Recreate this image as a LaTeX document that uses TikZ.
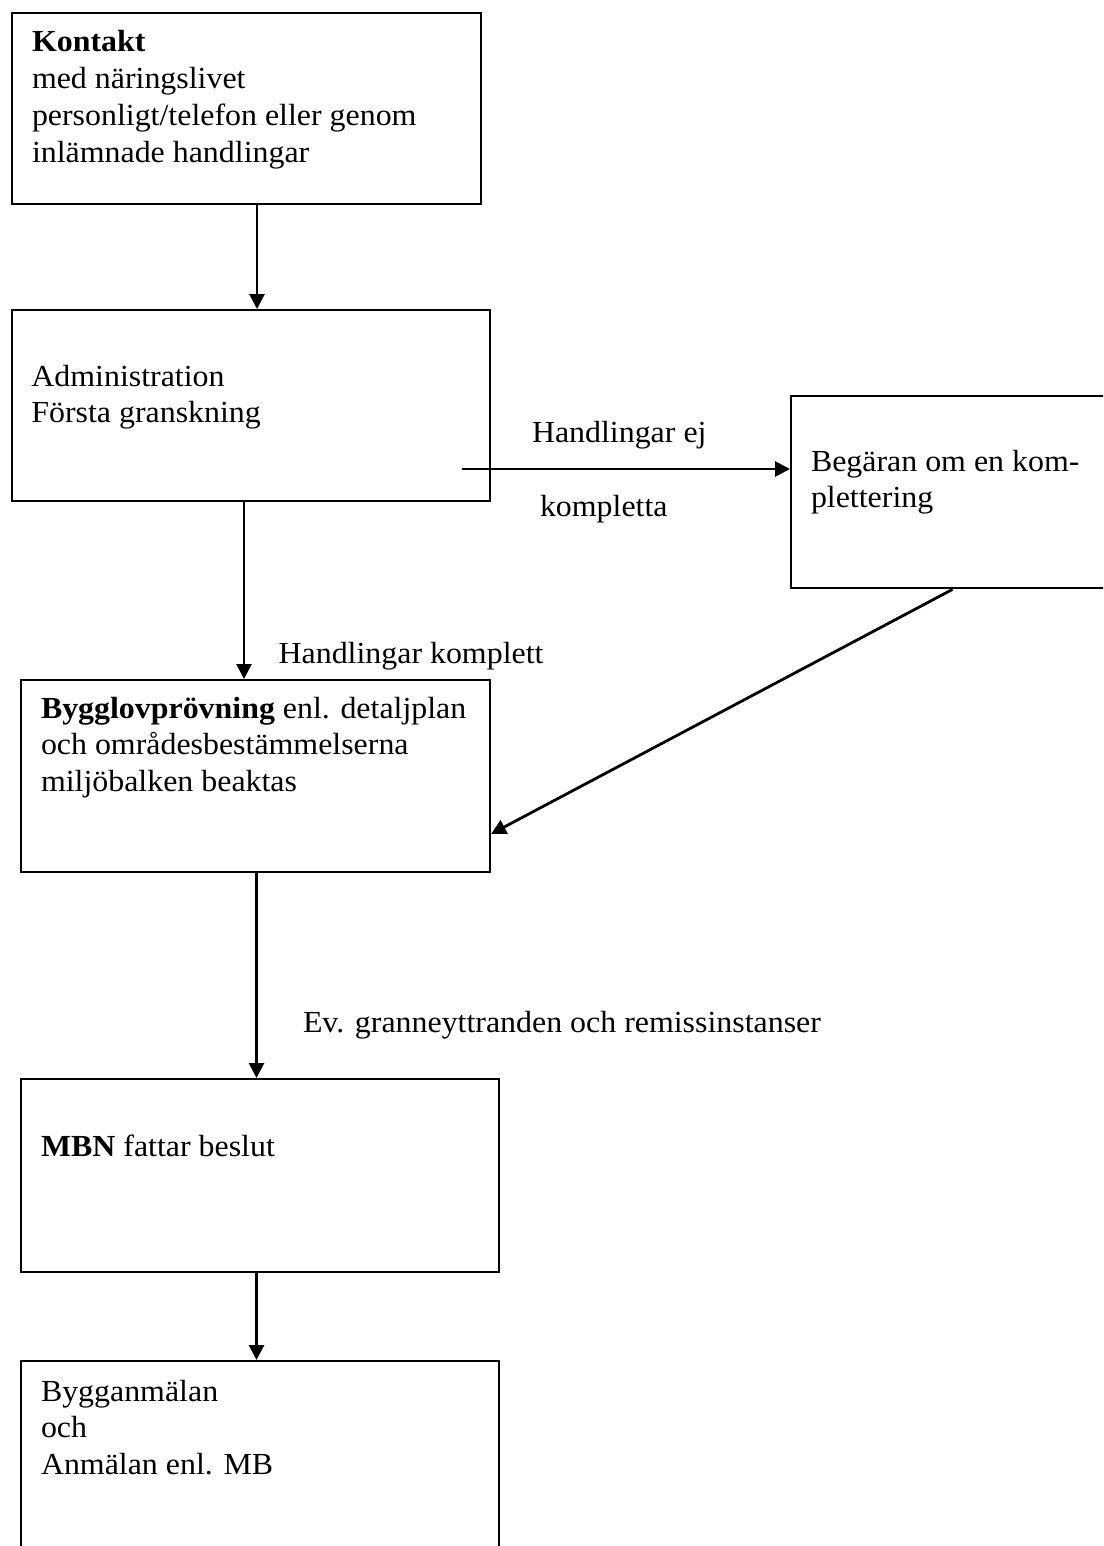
\documentclass[tikz,border=0pt]{standalone}
\usepackage{fontspec}
\usepackage{graphicx}
\setmainfont{Liberation Serif}
\usetikzlibrary{arrows.meta}
\newcommand\sqtext[1]{\scalebox{1}[0.96]{\begin{tabular}[t]{@{}l@{}}#1\end{tabular}}}
\begin{document}
\begin{tikzpicture}[x=1pt,y=-1pt,
  every node/.style={font=\fontsize{31.9}{38.5}\selectfont},
  box/.style={draw=black, line width=2.4pt, rectangle, anchor=north west, inner sep=0pt},
  txt/.style={anchor=base west, inner sep=0pt, outer sep=0pt},
  arr/.style={line width=2.8pt, -{Triangle[length=15pt,width=15pt]}}]
\useasboundingbox (0,0) rectangle (1103,1546);
\fill[white] (0,0) rectangle (1103,1546);
\clip (0,0) rectangle (1103,1546);

% boxes
\node[box, minimum width=469pt, minimum height=191pt] (b1) at (11,12) {};
\node[box, minimum width=478pt, minimum height=191pt] (b2) at (11,309) {};
\node[box, minimum width=340pt, minimum height=192pt] (b3) at (790,395) {};
\node[box, minimum width=469pt, minimum height=192pt] (b4) at (19.6,679) {};
\node[box, minimum width=478.4pt, minimum height=193pt] (b5) at (19.6,1078) {};
\node[box, minimum width=478.4pt, minimum height=220pt] (b6) at (19.6,1360) {};

% box texts
\node[txt] (t1) at (32,52) {\sqtext{\textbf{Kontakt}\\med näringslivet\\personligt/telefon eller genom\\inlämnade handlingar}};
\node[txt] (t2) at (31.4,386) {\sqtext{Administration\\Första granskning}};
\node[txt] (t3) at (811,471) {\sqtext{Begäran om en kom-\\plettering}};
\node[txt] (t4) at (41,718) {\sqtext{\textbf{Bygglovprövning} enl. detaljplan\\och områdesbestämmelserna\\miljöbalken beaktas}};
\node[txt] (t5) at (41,1156) {\sqtext{\textbf{MBN} fattar beslut}};
\node[txt] (t6) at (41,1401) {\sqtext{Bygganmälan\\och\\Anmälan enl. MB}};

% labels
\node[txt] (l1) at (532,442) {\sqtext{Handlingar ej}};
\node[txt] (l2) at (540,516) {\sqtext{kompletta}};
\node[txt] (l3) at (278.6,663) {\sqtext{Handlingar komplett}};
\node[txt] (l4) at (303,1032) {\sqtext{Ev. granneyttranden och remissinstanser}};

% helper coordinates
\coordinate (x1) at (257,0);
\coordinate (x2) at (244,0);
\coordinate (x5) at (256.5,0);
\coordinate (s3) at (462,469);
\coordinate (x4) at (952.5,0);
\coordinate (e4) at (0,834);

% connectors
\draw[arr] (b1.south -| x1) -- (b2.north -| x1);
\draw[arr] (b2.south -| x2) -- (b4.north -| x2);
\draw[arr] (s3) -- (s3 -| b3.west);
\draw[arr] (b3.south -| x4) -- (b4.east |- e4);
\draw[arr] (b4.south -| x5) -- (b5.north -| x5);
\draw[arr] (b5.south -| x5) -- (b6.north -| x5);
\end{tikzpicture}
\end{document}
